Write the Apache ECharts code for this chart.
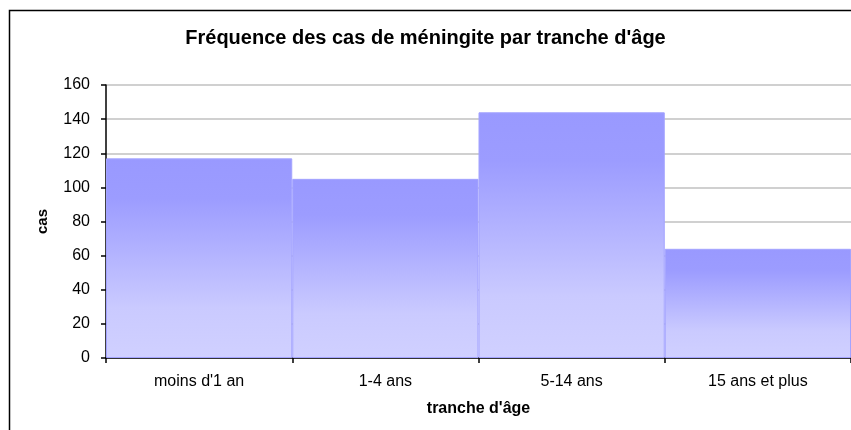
<!DOCTYPE html>
<html>
<head>
<meta charset="utf-8">
<script src="https://cdn.jsdelivr.net/npm/echarts@6/dist/echarts.min.js"></script>
<style>
  html, body { margin: 0; padding: 0; background: #fff; }
  #chart { width: 851px; height: 430px; }
</style>
</head>
<body>
<div id="chart"></div>
<script>
// tranches d'âge
var categories = ['moins d\'1 an', '1-4 ans', '5-14 ans', '15 ans et plus']
// nombre de cas
var cases = [117, 105, 144, 64]

var font = 'Liberation Sans, Arial, sans-serif'

var chart = echarts.init(document.getElementById('chart'))
chart.setOption({
  animation: false,
  backgroundColor: '#fff',
  title: {
    text: 'Fréquence des cas de méningite par tranche d\'âge',
    left: 'center',
    top: 23,
    textStyle: { fontFamily: font, fontSize: 20, fontWeight: 'bold', color: '#000' }
  },
  // cadre du graphique
  graphic: [{
    type: 'rect',
    shape: { x: 9.5, y: 10.5, width: 900, height: 500 },
    style: { fill: 'none', stroke: '#000', lineWidth: 1.5 },
    silent: true
  }],
  grid: {
    left: 106,
    top: 85,
    width: 746,
    height: 273
  },
  xAxis: {
    type: 'category',
    data: categories,
    name: 'tranche d\'âge',
    nameLocation: 'middle',
    nameGap: 43,
    nameTextStyle: { fontFamily: font, fontSize: 16, fontWeight: 'bold', color: '#000' },
    axisLine: { lineStyle: { color: '#000', width: 1.5 } },
    axisTick: { show: true, length: 5, lineStyle: { color: '#000', width: 1.5 } },
    axisLabel: { fontFamily: font, fontSize: 16, color: '#000', margin: 16 },
    splitLine: { show: false }
  },
  yAxis: {
    type: 'value',
    min: 0,
    max: 160,
    interval: 20,
    name: 'cas',
    nameLocation: 'middle',
    nameGap: 56,
    nameRotate: 90,
    nameTextStyle: { fontFamily: font, fontSize: 15, fontWeight: 'bold', color: '#000' },
    axisLine: { show: true, lineStyle: { color: '#000', width: 1.5 } },
    axisTick: { show: true, length: 5, lineStyle: { color: '#000', width: 1.5 } },
    axisLabel: { fontFamily: font, fontSize: 16, color: '#000', margin: 16 },
    splitLine: { show: true, lineStyle: { color: '#c0c0c0', width: 1.5 } }
  },
  series: [{
    name: 'cas',
    type: 'bar',
    data: cases,
    barCategoryGap: '0%',
    itemStyle: {
      borderColor: '#a3a3ff',
      borderWidth: 1,
      color: new echarts.graphic.LinearGradient(0, 0, 0, 1, [
        { offset: 0, color: '#9999ff' },
        { offset: 0.2, color: '#9c9cff' },
        { offset: 0.75, color: '#cacaff' },
        { offset: 1, color: '#d0d0ff' }
      ])
    }
  }]
})
</script>
</body>
</html>
